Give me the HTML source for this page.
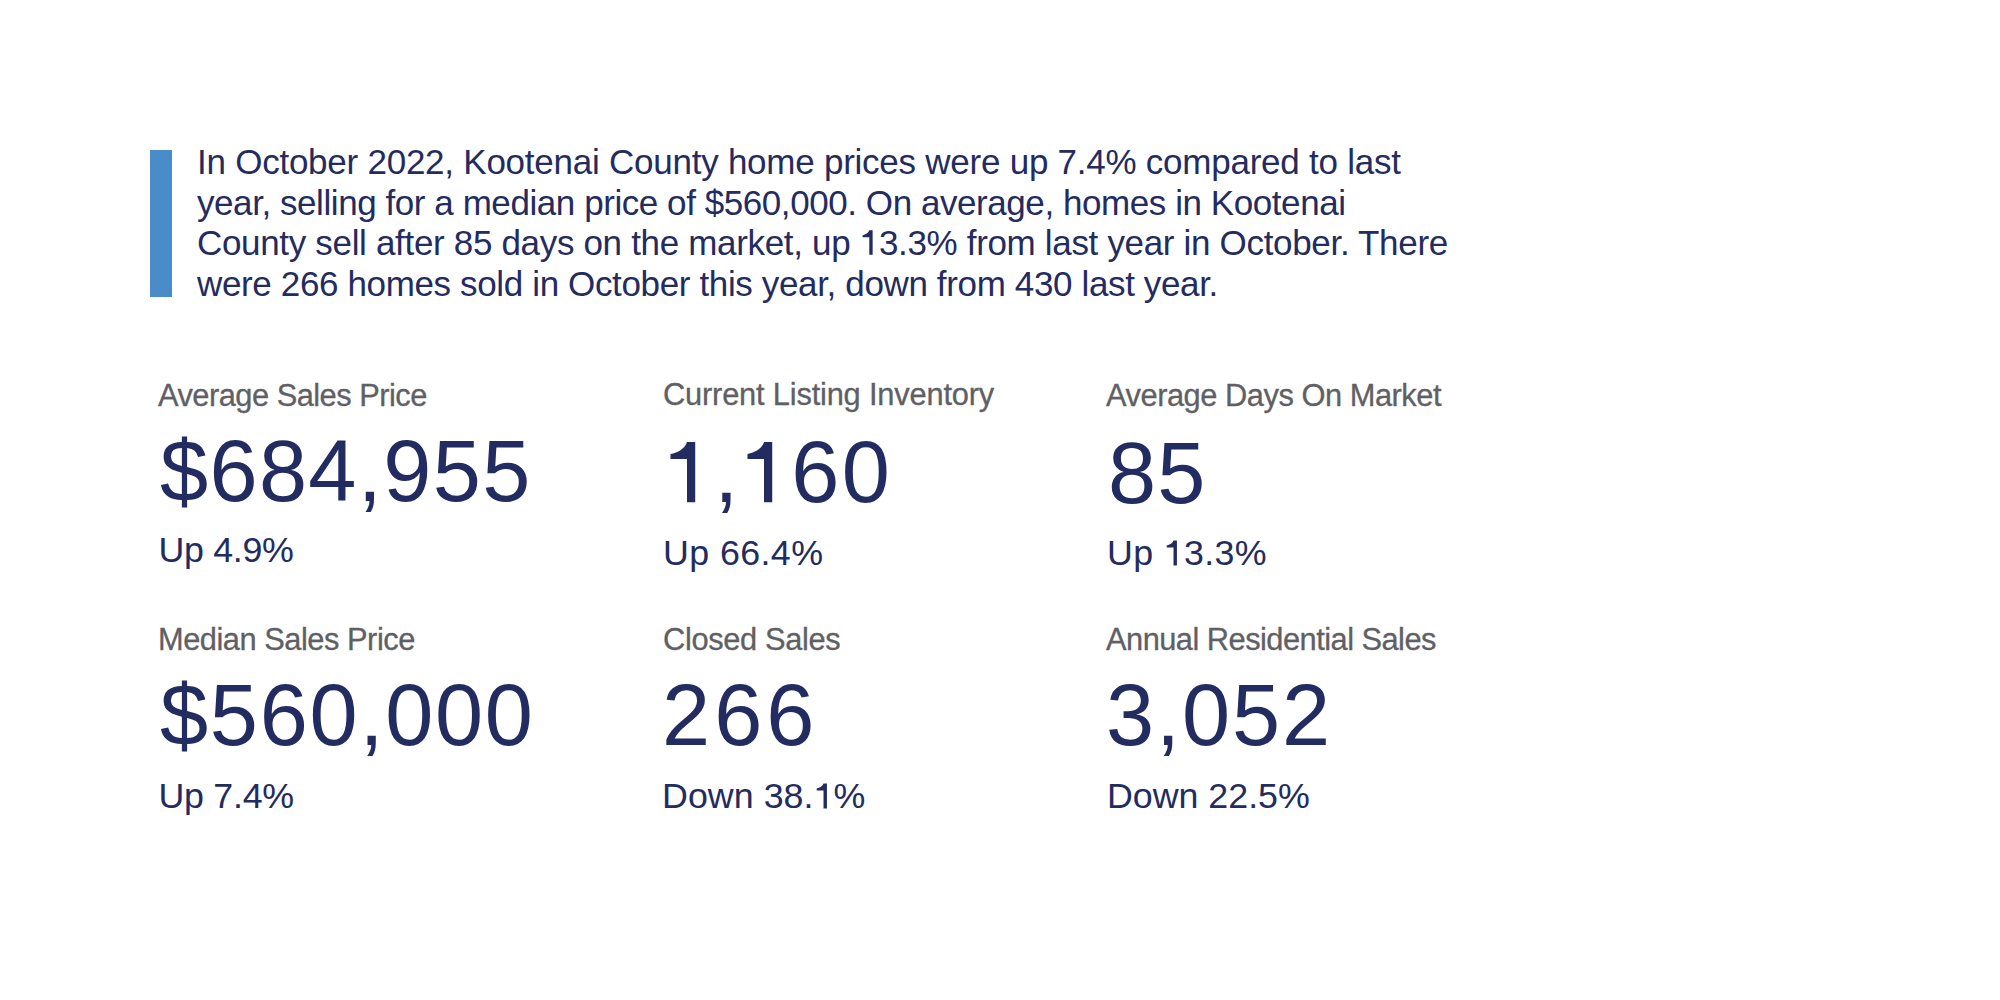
<!DOCTYPE html>
<html>
<head>
<meta charset="utf-8">
<style>
html,body{margin:0;padding:0;background:#fff;}
body{width:2000px;height:1000px;position:relative;overflow:hidden;font-family:"Liberation Sans",sans-serif;}
.bar{position:absolute;left:150px;top:150px;width:22px;height:147px;background:#4a8bc9;}
.para{position:absolute;left:197px;font-size:35px;line-height:40.5px;color:#242b5f;white-space:nowrap;}
.t{position:absolute;white-space:nowrap;line-height:1;}
.lab{color:#5f6064;-webkit-text-stroke:0.3px #5f6064;}
.num{color:#232c60;}
.sub{color:#232c60;}
.one{position:relative;color:transparent;}
.one svg{position:absolute;left:0;top:0;width:1em;height:1.117em;overflow:visible;}
</style>
</head>
<body>
<div class="bar"></div>
<div class="para" style="top:142px;letter-spacing:-0.245px">In October 2022, Kootenai County home prices were up 7.4% compared to last</div>
<div class="para" style="top:182.5px;letter-spacing:-0.433px">year, selling for a median price of $560,000. On average, homes in Kootenai</div>
<div class="para" style="top:223px;letter-spacing:-0.325px">County sell after 85 days on the market, up <span class="one">1<svg viewBox="0 -905 1000 1117"><path fill="#242b5f" d="M75 -557C160 -572 245 -620 266 -696L361 -696L361 0L266 0L266 -500L75 -500Z"/></svg></span>3.3% from last year in October. There</div>
<div class="para" style="top:263.5px;letter-spacing:-0.36px">were 266 homes sold in October this year, down from 430 last year.</div>
<div class="t lab" style="left:158.00px;top:381.00px;font-size:30.80px;letter-spacing:-0.51px">Average Sales Price</div>
<div class="t lab" style="left:663.00px;top:380.00px;font-size:30.80px;letter-spacing:-0.18px">Current Listing Inventory</div>
<div class="t lab" style="left:1106.00px;top:381.00px;font-size:30.80px;letter-spacing:-0.46px">Average Days On Market</div>
<div class="t num" style="left:160.00px;top:428.00px;font-size:86.50px;letter-spacing:1.35px">$684,955</div>
<div class="t num" style="left:663.80px;top:429.00px;font-size:86.50px;letter-spacing:2.40px"><span class="one">1<svg viewBox="0 -905 1000 1117"><path fill="#232c60" d="M75 -557C160 -572 245 -620 266 -696L361 -696L361 0L266 0L266 -500L75 -500Z"/></svg></span>,<span class="one">1<svg viewBox="0 -905 1000 1117"><path fill="#232c60" d="M75 -557C160 -572 245 -620 266 -696L361 -696L361 0L266 0L266 -500L75 -500Z"/></svg></span>60</div>
<div class="t num" style="left:1108.00px;top:430.00px;font-size:86.50px;letter-spacing:1.26px">85</div>
<div class="t sub" style="left:158.40px;top:533.00px;font-size:35.80px;letter-spacing:-0.31px">Up 4.9%</div>
<div class="t sub" style="left:663.00px;top:536.00px;font-size:35.80px;letter-spacing:0.40px">Up 66.4%</div>
<div class="t sub" style="left:1107.00px;top:536.00px;font-size:35.80px;letter-spacing:0.32px">Up <span class="one">1<svg viewBox="0 -905 1000 1117"><path fill="#232c60" d="M75 -557C160 -572 245 -620 266 -696L361 -696L361 0L266 0L266 -500L75 -500Z"/></svg></span>3.3%</div>
<div class="t lab" style="left:158.00px;top:625.00px;font-size:30.80px;letter-spacing:-0.47px">Median Sales Price</div>
<div class="t lab" style="left:663.00px;top:625.00px;font-size:30.80px;letter-spacing:-0.35px">Closed Sales</div>
<div class="t lab" style="left:1106.00px;top:625.00px;font-size:30.80px;letter-spacing:-0.52px">Annual Residential Sales</div>
<div class="t num" style="left:160.00px;top:672.00px;font-size:86.50px;letter-spacing:1.74px">$560,000</div>
<div class="t num" style="left:662.00px;top:672.20px;font-size:86.50px;letter-spacing:4.04px">266</div>
<div class="t num" style="left:1106.00px;top:672.20px;font-size:86.50px;letter-spacing:1.94px">3,052</div>
<div class="t sub" style="left:158.40px;top:778.60px;font-size:35.80px;letter-spacing:-0.26px">Up 7.4%</div>
<div class="t sub" style="left:662.00px;top:778.60px;font-size:35.80px;letter-spacing:0.04px">Down 38.<span class="one">1<svg viewBox="0 -905 1000 1117"><path fill="#232c60" d="M75 -557C160 -572 245 -620 266 -696L361 -696L361 0L266 0L266 -500L75 -500Z"/></svg></span>%</div>
<div class="t sub" style="left:1107.00px;top:778.60px;font-size:35.80px;letter-spacing:-0.02px">Down 22.5%</div>
</body>
</html>
